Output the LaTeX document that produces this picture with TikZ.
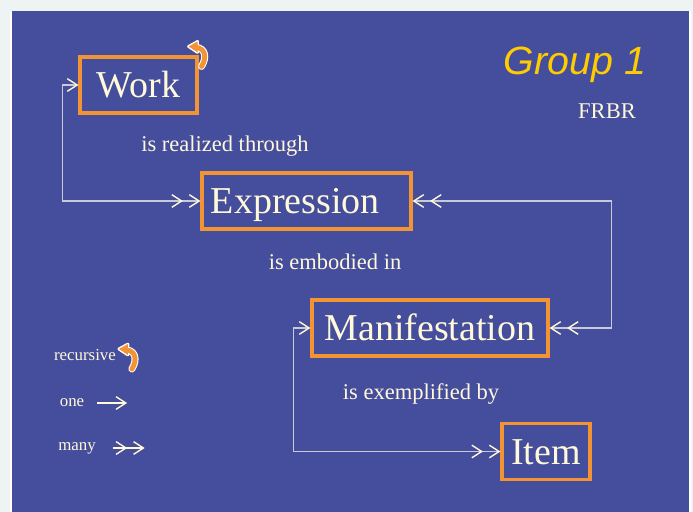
\documentclass[tikz,border=0pt]{standalone}
\usepackage{fontspec}
\setmainfont{Liberation Serif}
\newfontfamily\headfont{Liberation Sans}
\usetikzlibrary{arrows.meta, positioning}
\definecolor{Slate}{HTML}{454D9D}
\definecolor{Paper}{HTML}{EEF3F3}
\definecolor{Amber}{HTML}{F39434}
\definecolor{Cream}{HTML}{FFF9DA}
\definecolor{Wire}{HTML}{C9CAD8}
\definecolor{Gold}{HTML}{FFCC00}
\tikzset{
  entity/.style={rectangle, draw=Amber, line width=2.2pt, text=Cream,
                 minimum height=1.4cm, text height=18pt, text depth=0pt,
                 font=\fontsize{27}{30}\selectfont},
  relation/.style={text=Cream, font=\fontsize{16}{18}\selectfont},
  legend/.style={text=Cream, font=\fontsize{12}{14}\selectfont},
  link/.style={draw=Wire, line width=1pt},
  onehead/.tip={Straight Barb[length=7pt, width=9pt, color=Cream]},
  manyhead/.tip={Straight Barb[length=7pt, width=9pt, color=Cream, sep=4pt]
                 Straight Barb[length=7pt, width=9pt, color=Cream]},
  curl/.pic={
    \draw[white, line width=5pt, line cap=round] (8,1) .. controls (16,2) and (19,10) .. (13,20);
    \filldraw[white, line width=2pt, line join=round] (0,0) -- (9,-5) -- (9,6) -- cycle;
    \draw[Amber, line width=3.5pt, line cap=round] (8,1) .. controls (16,2) and (19,10) .. (13,20);
    \fill[Amber] (0,0) -- (9,-5) -- (9,6) -- cycle;
  }
}

\begin{document}
\begin{tikzpicture}[x=0.025cm, y=-0.025cm]
    \useasboundingbox (0,0) rectangle (693,512);
    % slide background
    \fill[Paper] (0,0) rectangle (693,512);
    \fill[white] (10,11) rectangle (691,512);
    \fill[Slate] (12,11) rectangle (689,512);

    % Group 1 entities
    \node[entity, minimum width=2.925cm] (work) at (138.5,85) {Work};
    \node[entity, text width=4.775cm, inner xsep=0.225cm, align=left] (expr) at (306.5,201) {Expression};
    \node[entity, minimum width=5.9cm] (mani) at (430,328) {Manifestation};
    \node[entity, minimum width=2.2cm] (item) at (546,451.5) {Item};

    \pic at ([xshift=-0.25cm, yshift=0.225cm]work.north east) {curl};

    % relationships
    \draw[link, onehead-manyhead] (work.west) -- ++(-16,0) |- (expr.west);
    \draw[link, manyhead-manyhead] (expr.east) -- ++(199,0) |- (mani.east);
    \draw[link, onehead-manyhead] (mani.west) -- ++(-17,0) |- (item.west);

    \node[relation] (realized) at (225,146) {is realized through};
    \node[relation] (embodied) at (335,262) {is embodied in};
    \node[relation] (exemplified) at (421,394) {is exemplified by};

    % title
    \node[text=Gold, font=\fontsize{28}{32}\headfont\itshape\selectfont] (group) at (575,65) {Group 1};
    \node[relation] (frbr) at (607,111) {FRBR};

    % legend
    \node[legend] (recursive) at (85,355) {recursive};
    \pic at ([xshift=-0.05cm, yshift=0.15cm]recursive.east) {curl};
    \node[legend] (one) at (72,403) {one};
    \coordinate (oneA) at ([xshift=0.2cm]one.east);
    \coordinate (oneB) at ([xshift=0.95cm]one.east);
    \draw[link, draw=Cream, -onehead] (oneA) -- (oneB);
    \node[legend] (many) at (77,448) {many};
    \coordinate (manyA) at ([xshift=0.3cm]many.east);
    \coordinate (manyB) at ([xshift=1.1cm]many.east);
    \draw[link, draw=Cream, -manyhead] (manyA) -- (manyB);
\end{tikzpicture}
\end{document}
